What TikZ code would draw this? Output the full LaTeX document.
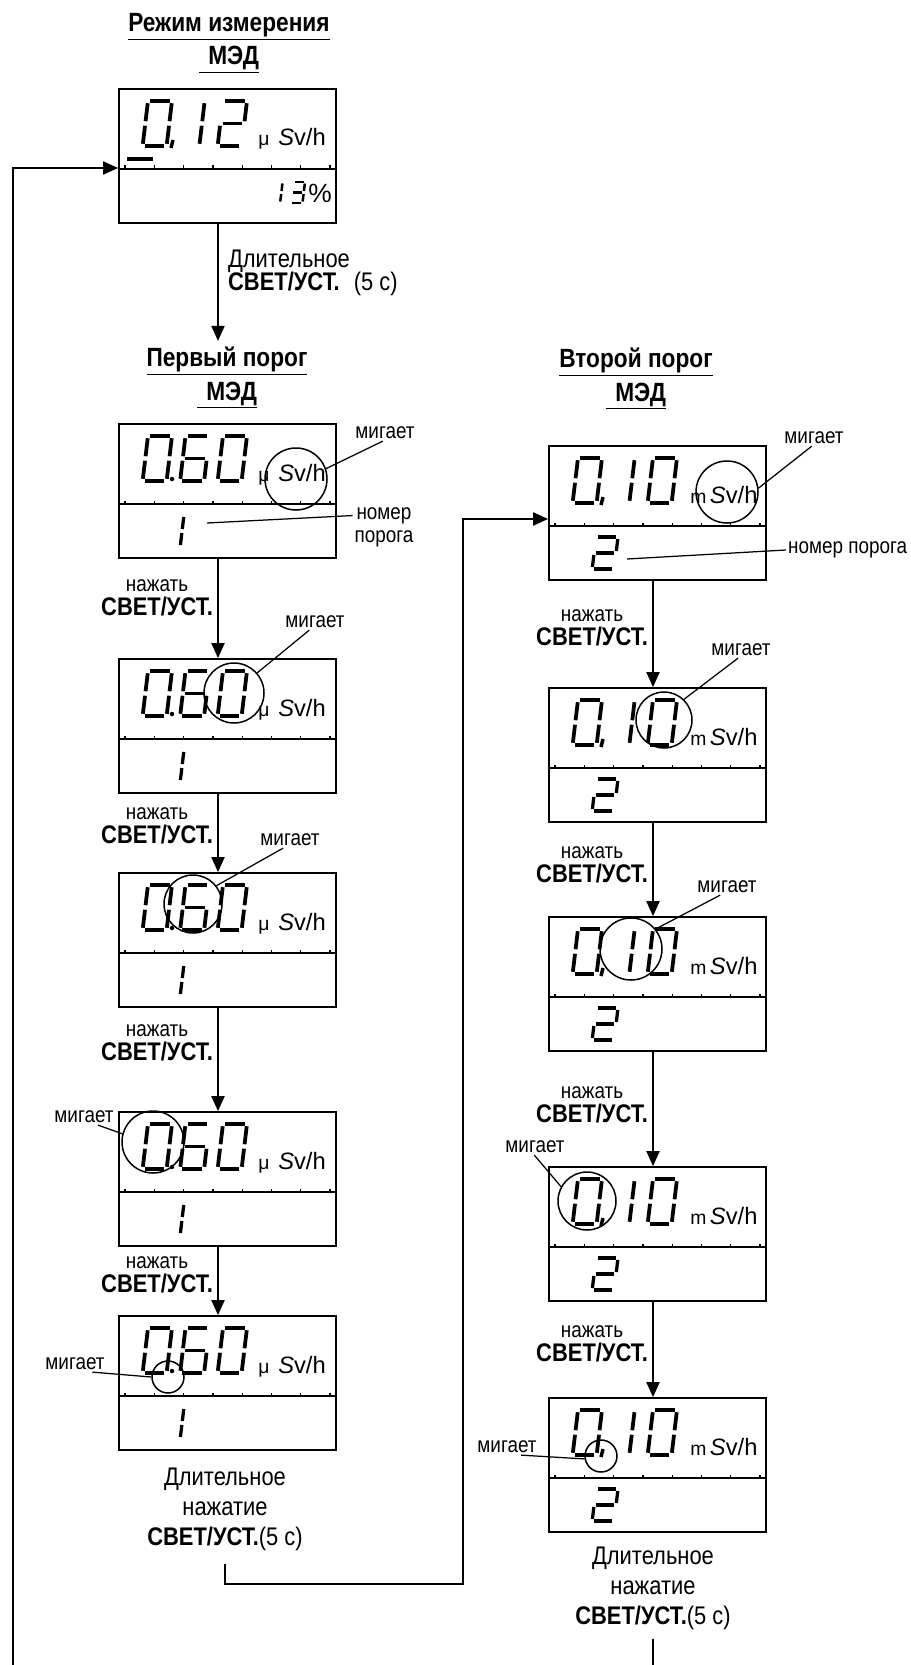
\documentclass[tikz,border=0pt]{standalone}
\usepackage{fontspec}
\setmainfont{Liberation Sans}[FakeStretch=0.86]
\newfontfamily\unitfont{Liberation Sans}
\usetikzlibrary{arrows.meta}

% seven segment digits, x1/y1/x2/y2 in cell units
\def\lcdZero{0/0/1/0, 1/0/1/1, 1/1/1/2, 0/2/1/2, 0/1/0/2, 0/0/0/1}
\def\lcdOne{0.8/0/0.8/1, 0.8/1/0.8/2}
\def\lcdTwo{0/0/1/0, 1/0/1/1, 0/1/1/1, 0/1/0/2, 0/2/1/2}
\def\lcdThree{0/0/1/0, 1/0/1/1, 0/1/1/1, 1/1/1/2, 0/2/1/2}
\def\lcdSix{0/0/1/0, 0/0/0/1, 0/1/1/1, 1/1/1/2, 0/2/1/2, 0/1/0/2}

% [style]{x}{y}{width}{height}{segments}
\newcommand{\lcddigit}[6][lcdseg]{%
  \begin{scope}[shift={(#2,#3)}, xslant=0.12]
    \foreach \xa/\ya/\xb/\yb in #6
      \draw[#1] ({\xa*#4},{\ya*#5/2}) -- ({\xb*#4},{\yb*#5/2});
  \end{scope}}

% {name}{left}{top}{digit}{digit}{digit}
\newcommand{\lcdbox}[6]{%
  \node[lcdframe] (#1) at ({#2+108.5},{#3+67}) {};
  \draw[lcddiv] (#2,{#3+80}) -- ++(217,0);
  \foreach \t in {0,...,7}
    \draw[lcdtick] ({#2+6+29.3*\t},{#3+80}) -- ++(0,-3.5);
  \lcddigit{#2+29}{#3+12}{24}{45}{#4}
  \lcddigit{#2+66.5}{#3+12}{24}{45}{#5}
  \lcddigit{#2+104}{#3+12}{24}{45}{#6}}

\newcommand{\lcdpoint}[2]{\fill ({#1+53},{#2+55}) circle (0.45mm);}
\newcommand{\lcdcomma}[2]{\draw[lcdpt] ({#1+54},{#2+51}) -- ++(-2,8);}
\newcommand{\usv}{{\fontsize{11}{11}\selectfont μ}\hspace{5pt}\textit{S}v/h}
\newcommand{\msv}{{\fontsize{11}{11}\selectfont m}\hspace{2pt}\textit{S}v/h}
\newcommand{\svet}{{\fontsize{14.5}{14}\selectfont\bfseries СВЕТ/УСТ.}}

\begin{document}
\begin{tikzpicture}[x=0.2mm, y=-0.2mm,
    lcdframe/.style={draw, line width=0.35mm, minimum width=43.4mm, minimum height=26.8mm, inner sep=0pt},
    lcddiv/.style={line width=0.5mm},
    lcdtick/.style={line width=0.25mm},
    lcdseg/.style={line width=0.75mm, shorten <=0.45mm, shorten >=0.45mm},
    lcdsmall/.style={line width=0.65mm, shorten <=0.4mm, shorten >=0.4mm},
    lcdtiny/.style={line width=0.5mm, shorten <=0.3mm, shorten >=0.3mm},
    lcdpt/.style={line width=0.7mm},
    unit/.style={font=\unitfont\fontsize{13.5}{13.5}\selectfont, inner sep=0pt},
    title/.style={align=center, font=\bfseries\fontsize{15}{19}\selectfont},
    note/.style={font=\fontsize{12.5}{13}\selectfont, inner sep=1pt},
    press/.style={align=center, font=\fontsize{12.5}{13.5}\selectfont, inner sep=1pt},
    hold/.style={align=center, font=\fontsize{14.5}{17}\selectfont, inner sep=1pt},
    blink/.style={circle, draw, line width=0.3mm, inner sep=0pt},
    flow/.style={line width=0.4mm, -{Triangle[length=3mm, width=2.6mm]}},
    lead/.style={line width=0.25mm}]
    \useasboundingbox (0,0) rectangle (910,1665);

    % Measurement mode
    \node[title] (tA) at (229,43.5) {\underline{Режим измерения}\\\underline{\hspace{0.35em}МЭД}};
    \lcdbox{dA}{119}{89}{\lcdZero}{\lcdOne}{\lcdTwo}
    \lcdcomma{119}{89}
    \draw[lcdpt] (127,159) -- (153,159);
    \node[unit, anchor=base west] (uA) at (258,146) {\usv};
    \lcddigit[lcdtiny]{273}{182}{12}{21}{\lcdOne}
    \lcddigit[lcdtiny]{293}{182}{12}{21}{\lcdThree}
    \node[unit, font=\unitfont\fontsize{15}{15}\selectfont] (pct) at (320,193) {\%};
    \node[hold, anchor=west, align=left, font=\fontsize{14.5}{13.5}\selectfont] (hA) at (226,273)
        {Длительное\\\svet\hspace{8pt}(5 с)};

    % First threshold
    \node[title] (tB) at (227,378) {\underline{Первый порог}\\\underline{\hspace{0.35em}МЭД}};
    \lcdbox{dB1}{119}{424}{\lcdZero}{\lcdSix}{\lcdZero}
    \lcdpoint{119}{424}
    \node[unit, anchor=base west] (uB1) at (258,481) {\usv};
    \lcddigit[lcdsmall]{168}{515}{20}{32}{\lcdOne}
    \node[blink, minimum size=12.4mm] (cB1) at (296,479) {};
    \node[note] (mB1) at (385,433) {мигает};
    \draw[lead] (cB1.19) -- (mB1.255);
    \node[note, align=center] (nB1) at (384,527) {номер\\порога};
    \coordinate (pB1) at (207,523);
    \draw[lead] (pB1) -- (nB1.160);

    \lcdbox{dB2}{119}{659}{\lcdZero}{\lcdSix}{\lcdZero}
    \lcdpoint{119}{659}
    \node[unit, anchor=base west] (uB2) at (258,716) {\usv};
    \lcddigit[lcdsmall]{168}{750}{20}{32}{\lcdOne}
    \node[blink, minimum size=12mm] (cB2) at (234,693) {};
    \node[note] (mB2) at (315,622) {мигает};
    \draw[lead] (cB2.41) -- (mB2.235);

    \lcdbox{dB3}{119}{873}{\lcdZero}{\lcdSix}{\lcdZero}
    \lcdpoint{119}{873}
    \node[unit, anchor=base west] (uB3) at (258,930) {\usv};
    \lcddigit[lcdsmall]{168}{964}{20}{32}{\lcdOne}
    \node[blink, minimum size=11.6mm] (cB3) at (193,904) {};
    \node[note] (mB3) at (290,840) {мигает};
    \draw[lead] (cB3.38) -- (mB3.230);

    \lcdbox{dB4}{119}{1112}{\lcdZero}{\lcdSix}{\lcdZero}
    \lcdpoint{119}{1112}
    \node[unit, anchor=base west] (uB4) at (258,1169) {\usv};
    \lcddigit[lcdsmall]{168}{1203}{20}{32}{\lcdOne}
    \node[blink, minimum size=12.4mm] (cB4) at (153,1142) {};
    \node[note] (mB4) at (84,1117) {мигает};
    \draw[lead] (cB4.165) -- (mB4.330);

    \lcdbox{dB5}{119}{1316}{\lcdZero}{\lcdSix}{\lcdZero}
    \lcdpoint{119}{1316}
    \node[unit, anchor=base west] (uB5) at (258,1373) {\usv};
    \lcddigit[lcdsmall]{168}{1407}{20}{32}{\lcdOne}
    \node[blink, minimum size=6.4mm] (cB5) at (168,1377) {};
    \node[note] (mB5) at (75,1364) {мигает};
    \draw[lead] (cB5.180) -- (mB5.335);
    \node[hold] (hB) at (225,1509) {Длительное\\нажатие\\\svet(5 с)};

    % Second threshold
    \node[title] (tC) at (636,379) {\underline{Второй порог}\\\underline{\hspace{0.35em}МЭД}};
    \lcdbox{dC1}{549}{446}{\lcdZero}{\lcdOne}{\lcdZero}
    \lcdcomma{549}{446}
    \node[unit, anchor=base west] (uC1) at (690,503) {\msv};
    \lcddigit[lcdsmall]{596}{537}{22}{32}{\lcdTwo}
    \node[blink, minimum size=12.4mm] (cC1) at (727,492) {};
    \node[note] (mC1) at (814,438) {мигает};
    \draw[lead] (cC1.7) -- (mC1.255);
    \node[note, anchor=west] (nC1) at (786,550) {номер порога};
    \coordinate (pC1) at (627,559);
    \draw[lead] (pC1) -- (nC1.west);

    \lcdbox{dC2}{549}{688}{\lcdZero}{\lcdOne}{\lcdZero}
    \lcdcomma{549}{688}
    \node[unit, anchor=base west] (uC2) at (690,745) {\msv};
    \lcddigit[lcdsmall]{596}{779}{22}{32}{\lcdTwo}
    \node[blink, minimum size=11.2mm] (cC2) at (664,720) {};
    \node[note] (mC2) at (741,650) {мигает};
    \draw[lead] (cC2.46) -- (mC2.250);

    \lcdbox{dC3}{549}{917}{\lcdZero}{\lcdOne}{\lcdZero}
    \lcdcomma{549}{917}
    \node[unit, anchor=base west] (uC3) at (690,974) {\msv};
    \lcddigit[lcdsmall]{596}{1008}{22}{32}{\lcdTwo}
    \node[blink, minimum size=12.4mm] (cC3) at (631,949) {};
    \node[note] (mC3) at (727,887) {мигает};
    \draw[lead] (cC3.39) -- (mC3.230);

    \lcdbox{dC4}{549}{1167}{\lcdZero}{\lcdOne}{\lcdZero}
    \lcdcomma{549}{1167}
    \node[unit, anchor=base west] (uC4) at (690,1224) {\msv};
    \lcddigit[lcdsmall]{596}{1258}{22}{32}{\lcdTwo}
    \node[blink, minimum size=11.6mm] (cC4) at (587,1201) {};
    \node[note] (mC4) at (535,1147) {мигает};
    \draw[lead] (cC4.151) -- (mC4.265);

    \lcdbox{dC5}{549}{1398}{\lcdZero}{\lcdOne}{\lcdZero}
    \lcdcomma{549}{1398}
    \node[unit, anchor=base west] (uC5) at (690,1455) {\msv};
    \lcddigit[lcdsmall]{596}{1489}{22}{32}{\lcdTwo}
    \node[blink, minimum size=6.4mm] (cC5) at (601,1456) {};
    \node[note] (mC5) at (507,1447) {мигает};
    \draw[lead] (cC5.190) -- (mC5.330);
    \node[hold] (hC) at (653,1588) {Длительное\\нажатие\\\svet(5 с)};

    % Button labels
    \node[press, anchor=east] (kB1) at (215,598) {нажать\\\svet};
    \node[press, anchor=east] (kB2) at (215,826) {нажать\\\svet};
    \node[press, anchor=east] (kB3) at (215,1043) {нажать\\\svet};
    \node[press, anchor=east] (kB4) at (215,1275) {нажать\\\svet};
    \node[press, anchor=east] (kC1) at (650,628) {нажать\\\svet};
    \node[press, anchor=east] (kC2) at (650,865) {нажать\\\svet};
    \node[press, anchor=east] (kC3) at (650,1105) {нажать\\\svet};
    \node[press, anchor=east] (kC4) at (650,1344) {нажать\\\svet};

    % Arrows
    \coordinate (a0) at ([xshift=-1.9mm]dA.south);
    \draw[flow] (a0) -- (a0 |- tB.north);
    \draw[flow] ([xshift=-1.9mm]dB1.south) -- ([xshift=-1.9mm]dB2.north);
    \draw[flow] ([xshift=-1.9mm]dB2.south) -- ([xshift=-1.9mm]dB3.north);
    \draw[flow] ([xshift=-1.9mm]dB3.south) -- ([xshift=-1.9mm]dB4.north);
    \draw[flow] ([xshift=-1.9mm]dB4.south) -- ([xshift=-1.9mm]dB5.north);
    \draw[flow] ([xshift=-0.9mm]dC1.south) -- ([xshift=-0.9mm]dC2.north);
    \draw[flow] ([xshift=-0.9mm]dC2.south) -- ([xshift=-0.9mm]dC3.north);
    \draw[flow] ([xshift=-0.9mm]dC3.south) -- ([xshift=-0.9mm]dC4.north);
    \draw[flow] ([xshift=-0.9mm]dC4.south) -- ([xshift=-0.9mm]dC5.north);

    % Long press paths
    \coordinate (bend) at (463,1584);
    \draw[flow] ([yshift=-2.4mm]hB.south) |- (bend) |- ([yshift=-1.2mm]dC1.west);
    \coordinate (endR) at (653,1665);
    \draw[line width=0.4mm] ([yshift=-1.5mm]hC.south) -- (endR);
    \coordinate (endL) at (13,1665);
    \draw[flow] (endL) |- ([yshift=-2.4mm]dA.west);
\end{tikzpicture}
\end{document}
